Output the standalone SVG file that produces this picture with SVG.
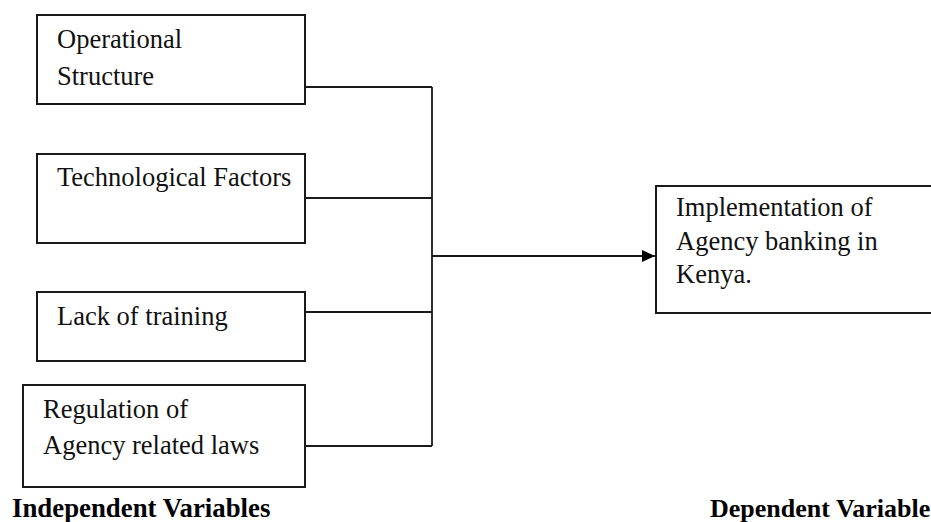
<svg xmlns="http://www.w3.org/2000/svg" width="931" height="522" viewBox="0 0 931 522">
<style>
.box{fill:#fff;stroke:#1a1a1a;stroke-width:2}
.t{font-family:"Liberation Serif","Times New Roman",serif;font-size:26.5px;fill:#111}
.lbl{font-family:"Liberation Serif","Times New Roman",serif;font-size:26px;font-weight:bold;fill:#000}
.c{stroke:#1a1a1a;stroke-width:1.8;fill:none}
</style>
<defs>
<marker id="arr" markerWidth="13" markerHeight="12" refX="13" refY="6" orient="auto" markerUnits="userSpaceOnUse">
<path d="M0,0 L13,6 L0,12 Z" fill="#000"/>
</marker>
</defs>
<rect width="931" height="522" fill="#fff"/>
<g id="connectors">
<path class="c" d="M305,87 H432 M305,198 H432 M305,312 H432 M305,446 H432 M432,87 V446"/>
<path class="c" d="M432,256 H655" marker-end="url(#arr)"/>
</g>
<g id="n1">
<rect class="box" x="37" y="15" width="268" height="89"/>
<text class="t" x="57" y="48">Operational</text>
<text class="t" x="57" y="85">Structure</text>
</g>
<g id="n2">
<rect class="box" x="37" y="154" width="268" height="89"/>
<text class="t" x="57" y="186">Technological Factors</text>
</g>
<g id="n3">
<rect class="box" x="37" y="292" width="268" height="69"/>
<text class="t" x="57" y="325">Lack of training</text>
</g>
<g id="n4">
<rect class="box" x="23" y="385" width="282" height="102"/>
<text class="t" x="43" y="418">Regulation of</text>
<text class="t" x="43" y="454">Agency related laws</text>
</g>
<g id="n5">
<rect class="box" x="656" y="186" width="290" height="127"/>
<text class="t" x="676" y="216">Implementation of</text>
<text class="t" x="676" y="250">Agency banking in</text>
<text class="t" x="676" y="283">Kenya.</text>
</g>
<g id="labels">
<text class="lbl" x="12" y="517" style="font-size:26.8px">Independent Variables</text>
<text class="lbl" x="710" y="517">Dependent Variable</text>
</g>
</svg>
